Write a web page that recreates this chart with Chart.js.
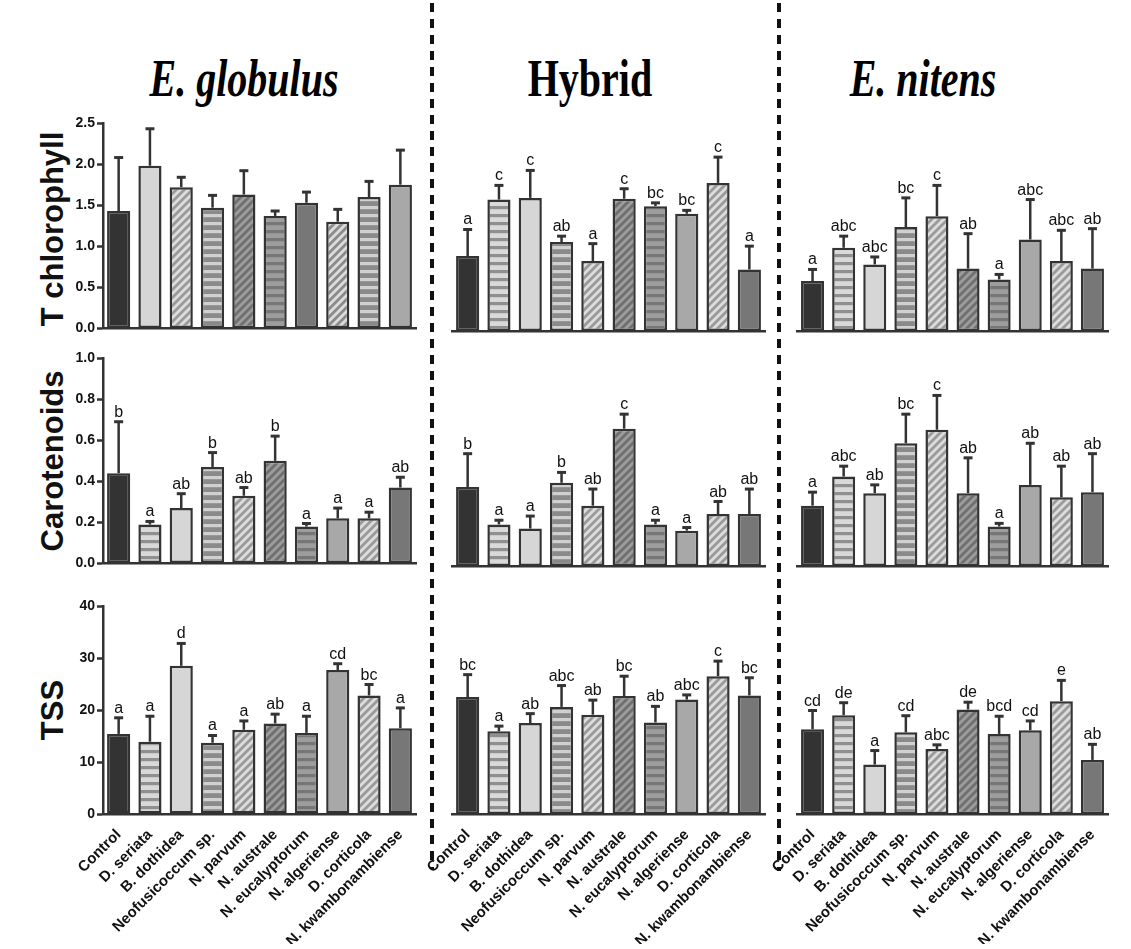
<!DOCTYPE html>
<html>
<head>
<meta charset="utf-8">
<script src="https://cdn.jsdelivr.net/npm/chart.js@4.4.0/dist/chart.umd.min.js"></script>
<style>
  body { margin: 0; background: #fff; }
  #wrap { position: relative; width: 1131px; height: 949px; overflow: hidden; background: #fff;
          font-family: "Liberation Sans", Arial, sans-serif; }
  canvas { position: absolute; }
  .dash { position: absolute; width: 3.5px;
          background: repeating-linear-gradient(to bottom, #111 0 9px, transparent 9px 16px); }
  .title { position: absolute; font-family: "Liberation Serif", "Times New Roman", serif; font-weight: bold;
           font-size: 40px; line-height: 1; white-space: nowrap; color: #000;
           transform: translateX(-50%) scaleY(1.3); }
  .ytitle { position: absolute; font-weight: bold; font-size: 31px; line-height: 1; white-space: nowrap; color: #111;
            transform: translate(-50%, -50%) rotate(-90deg); }
</style>
</head>
<body>
<div id="wrap">
  <div class="dash" style="left:430px; top:3px; height:866px;"></div>
  <div class="dash" style="left:777px; top:3px; height:868px;"></div>
  <div class="title" style="left:244px; top:59px;"><i>E. globulus</i></div>
  <div class="title" style="left:590px; top:59px;">Hybrid</div>
  <div class="title" style="left:923px; top:59px;"><i>E. nitens</i></div>
  <div class="ytitle" style="left:52px; top:229px;">T chlorophyll</div>
  <div class="ytitle" style="left:52px; top:461px;">Carotenoids</div>
  <div class="ytitle" style="left:52px; top:710px;">TSS</div>
</div>
<script>
const categories = ['Control', 'D. seriata', 'B. dothidea', 'Neofusicoccum sp.', 'N. parvum',
  'N. australe', 'N. eucalyptorum', 'N. algeriense', 'D. corticola', 'N. kwambonambiense'];

// T chlorophyll
const chlGlobulus = [1.43, 1.98, 1.72, 1.47, 1.63, 1.37, 1.53, 1.30, 1.60, 1.75];
const chlGlobulusSd = [0.65, 0.45, 0.12, 0.15, 0.29, 0.06, 0.13, 0.15, 0.19, 0.42];
const chlGlobulusLetters = ['', '', '', '', '', '', '', '', '', ''];
const chlHybrid = [0.90, 1.58, 1.60, 1.07, 0.84, 1.59, 1.50, 1.41, 1.78, 0.74];
const chlHybridSd = [0.32, 0.17, 0.33, 0.07, 0.21, 0.12, 0.04, 0.04, 0.31, 0.28];
const chlHybridLetters = ['a', 'c', 'c', 'ab', 'a', 'c', 'bc', 'bc', 'c', 'a'];
const chlNitens = [0.60, 1.00, 0.80, 1.25, 1.38, 0.75, 0.62, 1.10, 0.84, 0.75];
const chlNitensSd = [0.14, 0.14, 0.09, 0.35, 0.37, 0.42, 0.06, 0.48, 0.37, 0.48];
const chlNitensLetters = ['a', 'abc', 'abc', 'bc', 'c', 'ab', 'a', 'abc', 'abc', 'ab'];

// Carotenoids
const carGlobulus = [0.44, 0.19, 0.27, 0.47, 0.33, 0.50, 0.18, 0.22, 0.22, 0.37];
const carGlobulusSd = [0.25, 0.015, 0.07, 0.07, 0.04, 0.12, 0.015, 0.05, 0.03, 0.05];
const carGlobulusLetters = ['b', 'a', 'ab', 'b', 'ab', 'b', 'a', 'a', 'a', 'ab'];
const carHybrid = [0.38, 0.20, 0.18, 0.40, 0.29, 0.66, 0.20, 0.17, 0.25, 0.25];
const carHybridSd = [0.16, 0.02, 0.06, 0.05, 0.08, 0.07, 0.02, 0.015, 0.06, 0.12];
const carHybridLetters = ['b', 'a', 'a', 'b', 'ab', 'c', 'a', 'a', 'ab', 'ab'];
const carNitens = [0.29, 0.43, 0.35, 0.59, 0.655, 0.35, 0.19, 0.39, 0.33, 0.355];
const carNitensSd = [0.065, 0.05, 0.04, 0.14, 0.165, 0.17, 0.015, 0.2, 0.15, 0.185];
const carNitensLetters = ['a', 'abc', 'ab', 'bc', 'c', 'ab', 'a', 'ab', 'ab', 'ab'];

// TSS
const tssGlobulus = [15.4, 13.9, 28.5, 13.7, 16.2, 17.4, 15.6, 27.7, 22.8, 16.5];
const tssGlobulusSd = [3.1, 4.9, 4.3, 1.4, 1.7, 1.8, 3.2, 1.2, 2.1, 3.9];
const tssGlobulusLetters = ['a', 'a', 'd', 'a', 'a', 'ab', 'a', 'cd', 'bc', 'a'];
const tssHybrid = [22.5, 15.9, 17.5, 20.6, 19.1, 22.7, 17.6, 22.0, 26.5, 22.8];
const tssHybridSd = [4.3, 1.0, 1.8, 4.1, 2.8, 3.8, 3.1, 0.9, 2.9, 3.4];
const tssHybridLetters = ['bc', 'a', 'ab', 'abc', 'ab', 'bc', 'ab', 'abc', 'c', 'bc'];
const tssNitens = [16.3, 19.0, 9.5, 15.7, 12.5, 20.1, 15.4, 16.1, 21.7, 10.4];
const tssNitensSd = [3.6, 2.4, 2.7, 3.2, 0.8, 1.4, 3.4, 1.8, 4.0, 3.0];
const tssNitensLetters = ['cd', 'de', 'a', 'cd', 'abc', 'de', 'bcd', 'cd', 'e', 'ab'];

// y axis ranges per row
const yMax = [2.5, 1.0, 40];
const yStep = [0.5, 0.2, 10];

// bar fills: solid, horizontal stripes (h) or diagonal stripes (d)
const fillSpecs = [
  ['solid', '#333333'],
  ['h', '#d9d9d9', '#8f8f8f'],
  ['solid', '#d6d6d6'],
  ['h', '#8a8a8a', '#d0d0d0'],
  ['d', '#dcdcdc', '#9a9a9a'],
  ['d', '#9c9c9c', '#6f6f6f'],
  ['h', '#9d9d9d', '#767676'],
  ['solid', '#a8a8a8'],
  ['d', '#dcdcdc', '#9a9a9a'],
  ['solid', '#777777']
];
// the first panel uses its own order of fills
const fillSpecsFirst = [
  ['solid', '#333333'],
  ['solid', '#d6d6d6'],
  ['d', '#dcdcdc', '#9a9a9a'],
  ['h', '#8a8a8a', '#d0d0d0'],
  ['d', '#9c9c9c', '#6f6f6f'],
  ['h', '#9d9d9d', '#767676'],
  ['solid', '#777777'],
  ['d', '#dcdcdc', '#8a8a8a'],
  ['h', '#8a8a8a', '#d0d0d0'],
  ['solid', '#a8a8a8']
];

function makeFill(spec) {
  if (spec[0] === 'solid') return spec[1];
  const n = 8;
  const c = document.createElement('canvas');
  c.width = n; c.height = n;
  const g = c.getContext('2d');
  g.fillStyle = spec[1];
  g.fillRect(0, 0, n, n);
  if (spec[0] === 'h') {
    g.fillStyle = spec[2];
    g.fillRect(0, 0, n, 3.2);
  } else {
    g.strokeStyle = spec[2];
    g.lineWidth = 2.8;
    g.beginPath();
    g.moveTo(-2, n + 2); g.lineTo(n + 2, -2);
    g.moveTo(-2, 2); g.lineTo(2, -2);
    g.moveTo(n - 2, n + 2); g.lineTo(n + 2, n - 2);
    g.stroke();
  }
  return g.createPattern(c, 'repeat');
}

const fontFamily = '"Liberation Sans", Arial, sans-serif';

// error bars and letters on top of every bar
const errorBars = {
  id: 'errorBars',
  afterDatasetsDraw(chart, args, opts) {
    const ctx = chart.ctx;
    const meta = chart.getDatasetMeta(0);
    const y = chart.scales.y;
    const vals = chart.data.datasets[0].data;
    ctx.save();
    ctx.strokeStyle = '#333';
    ctx.fillStyle = '#111';
    ctx.font = '16px ' + fontFamily;
    ctx.textAlign = 'center';
    ctx.textBaseline = 'alphabetic';
    meta.data.forEach((bar, i) => {
      const top = y.getPixelForValue(vals[i] + opts.sd[i]);
      ctx.lineWidth = 2.5;
      ctx.beginPath();
      ctx.moveTo(bar.x, bar.y);
      ctx.lineTo(bar.x, top);
      ctx.stroke();
      ctx.lineWidth = 3;
      ctx.beginPath();
      ctx.moveTo(bar.x - 4.5, top);
      ctx.lineTo(bar.x + 4.5, top);
      ctx.stroke();
      if (opts.letters[i]) ctx.fillText(opts.letters[i], bar.x, top - 5);
    });
    ctx.restore();
  }
};

const cols = [
  { left: 0, width: 430, padL: 0, padR: 14 },
  { left: 392, width: 383, padL: 60, padR: 10 },
  { left: 737, width: 394, padL: 60, padR: 23 }
];
const rows = [
  { top: 110, height: 229, padT: 13, padB: 8, axisH: 0 },
  { top: 340, height: 234, padT: 18, padB: 8, axisH: 0 },
  { top: 590, height: 359, padT: 16, padB: 5, axisH: 130 }
];

function createPanel(row, col, data, sd, letters) {
  const wrap = document.getElementById('wrap');
  const canvas = document.createElement('canvas');
  const C = cols[col], R = rows[row];
  canvas.width = C.width; canvas.height = R.height;
  canvas.style.left = C.left + 'px'; canvas.style.top = R.top + 'px';
  canvas.style.width = C.width + 'px'; canvas.style.height = R.height + 'px';
  wrap.appendChild(canvas);
  const specs = (row === 0 && col === 0) ? fillSpecsFirst : fillSpecs;
  const decimals = row === 2 ? 0 : 1;
  new Chart(canvas.getContext('2d'), {
    type: 'bar',
    data: {
      labels: categories,
      datasets: [{
        data: data,
        backgroundColor: specs.map(makeFill),
        borderColor: '#333',
        borderWidth: 2.5,
        borderSkipped: false,
        barPercentage: 0.74,
        categoryPercentage: 1.0
      }]
    },
    options: {
      responsive: false,
      animation: false,
      layout: { padding: { left: C.padL, right: C.padR, top: R.padT, bottom: R.padB } },
      plugins: {
        legend: { display: false },
        tooltip: { enabled: false },
        errorBars: { sd: sd, letters: letters }
      },
      scales: {
        x: {
          grid: { display: false },
          border: { display: true, color: '#333', width: 2.5 },
          ticks: {
            display: row === 2,
            autoSkip: false,
            minRotation: 45,
            maxRotation: 45,
            padding: 4,
            color: '#111',
            font: { family: fontFamily, size: 15, weight: 'bold' }
          },
          afterFit: s => { s.height = R.axisH; s.paddingLeft = 0; s.paddingRight = 0; }
        },
        y: {
          display: col === 0,
          min: 0,
          max: yMax[row],
          grid: { display: true, drawOnChartArea: false, drawTicks: true, tickLength: 6,
                  tickWidth: 2.5, tickColor: '#333' },
          border: { display: true, color: '#333', width: 2.5 },
          ticks: {
            stepSize: yStep[row],
            padding: 2,
            color: '#111',
            font: { family: fontFamily, size: 14, weight: 'bold' },
            callback: v => Number(v).toFixed(decimals)
          },
          afterFit: s => { s.width = col === 0 ? 103 : 0; }
        }
      }
    },
    plugins: [errorBars]
  });
}

createPanel(0, 0, chlGlobulus, chlGlobulusSd, chlGlobulusLetters);
createPanel(0, 1, chlHybrid, chlHybridSd, chlHybridLetters);
createPanel(0, 2, chlNitens, chlNitensSd, chlNitensLetters);
createPanel(1, 0, carGlobulus, carGlobulusSd, carGlobulusLetters);
createPanel(1, 1, carHybrid, carHybridSd, carHybridLetters);
createPanel(1, 2, carNitens, carNitensSd, carNitensLetters);
createPanel(2, 0, tssGlobulus, tssGlobulusSd, tssGlobulusLetters);
createPanel(2, 1, tssHybrid, tssHybridSd, tssHybridLetters);
createPanel(2, 2, tssNitens, tssNitensSd, tssNitensLetters);
</script>
</body>
</html>
